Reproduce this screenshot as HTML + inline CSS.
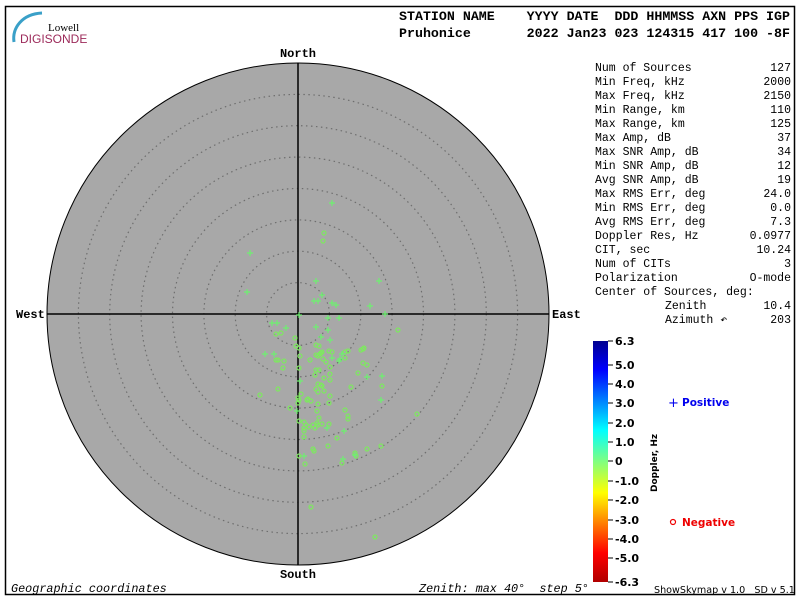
<!DOCTYPE html>
<html><head><meta charset="utf-8"><style>
body{margin:0;background:#fff;width:800px;height:600px;overflow:hidden}
svg{display:block}
.m{font-family:"Liberation Mono","DejaVu Sans Mono",monospace}
.s{font-family:"DejaVu Sans","Liberation Sans",sans-serif}
</style></head><body>
<svg width="800" height="600" viewBox="0 0 800 600" xmlns="http://www.w3.org/2000/svg">
<defs>
<linearGradient id="jet" x1="0" y1="0" x2="0" y2="1">
<stop offset="0" stop-color="#00008f"/>
<stop offset="0.12" stop-color="#0000ff"/>
<stop offset="0.37" stop-color="#00ffff"/>
<stop offset="0.5" stop-color="#80ff80"/>
<stop offset="0.63" stop-color="#ffff00"/>
<stop offset="0.88" stop-color="#ff0000"/>
<stop offset="1" stop-color="#b00000"/>
</linearGradient>
</defs>
<rect x="5.5" y="6.5" width="789" height="588" fill="none" stroke="#000" stroke-width="1.5"/>
<path d="M14 42 C12 28 22 14 42 13" fill="none" stroke="#3aa0c8" stroke-width="3"/>
<text x="48" y="31" font-family="Liberation Serif,serif" font-size="11">Lowell</text>
<text x="20" y="43" font-family="Liberation Sans,sans-serif" font-size="12" fill="#9c2a5a">DIGISONDE</text>
<text class="m" x="399" y="20" font-size="13.3" font-weight="bold" xml:space="preserve">STATION NAME    YYYY DATE  DDD HHMMSS AXN PPS IGP</text>
<text class="m" x="399" y="37" font-size="13.3" font-weight="bold" xml:space="preserve">Pruhonice       2022 Jan23 023 124315 417 100 -8F</text>
<circle cx="298" cy="314" r="251" fill="#a8a8a8" stroke="#000" stroke-width="1"/>
<g fill="none" stroke="#6e6e6e" stroke-dasharray="1.5 3.5" stroke-width="1.2">
<circle cx="298" cy="314" r="31.4"/><circle cx="298" cy="314" r="62.8"/><circle cx="298" cy="314" r="94.1"/><circle cx="298" cy="314" r="125.5"/><circle cx="298" cy="314" r="156.9"/><circle cx="298" cy="314" r="188.3"/><circle cx="298" cy="314" r="219.6"/>
</g>
<line x1="47" y1="314" x2="549" y2="314" stroke="#000" stroke-width="1.5"/>
<line x1="298" y1="63" x2="298" y2="565" stroke="#000" stroke-width="1.5"/>
<g id="pts"></g>
<g class="m" font-size="12" font-weight="bold">
<text x="298" y="57" text-anchor="middle">North</text>
<text x="298" y="578" text-anchor="middle">South</text>
<text x="16" y="318">West</text>
<text x="552" y="318">East</text>
</g>
<g class="m" font-size="11.8" font-style="italic">
<text x="11" y="592">Geographic coordinates</text>
<text x="419" y="592" xml:space="preserve">Zenith: max 40°  step 5°</text>
</g>
<text class="s" x="654" y="593" font-size="9.6" xml:space="preserve">ShowSkymap v 1.0   SD v 5.1</text>
<g class="m" font-size="11.5" id="stats"></g>
<rect x="593" y="341" width="15" height="241" fill="url(#jet)"/>
<g id="cb" class="s" font-size="11" font-weight="bold"></g>
<text class="s" font-size="9" font-weight="bold" transform="translate(657,492) rotate(-90)">Doppler, Hz</text>
<text x="668" y="407" fill="#0000ee" font-size="13" class="s">+</text>
<text class="s" x="682" y="406" font-size="10.5" font-weight="bold" fill="#0000ee">Positive</text>
<circle cx="673" cy="522" r="2.5" fill="none" stroke="#ee0000" stroke-width="1.2"/>
<text class="s" x="682" y="526" font-size="10.5" font-weight="bold" fill="#ee0000">Negative</text>
</svg>
<script>
var NS="http://www.w3.org/2000/svg";
function el(p,t,a,txt){var e=document.createElementNS(NS,t);for(var k in a)e.setAttribute(k,a[k]);if(txt!=null)e.textContent=txt;p.appendChild(e);return e;}
var st=document.getElementById('stats');
var rows=[["Num of Sources","127"],["Min Freq, kHz","2000"],["Max Freq, kHz","2150"],["Min Range, km","110"],["Max Range, km","125"],["Max Amp, dB","37"],["Max SNR Amp, dB","34"],["Min SNR Amp, dB","12"],["Avg SNR Amp, dB","19"],["Max RMS Err, deg","24.0"],["Min RMS Err, deg","0.0"],["Avg RMS Err, deg","7.3"],["Doppler Res, Hz","0.0977"],["CIT, sec","10.24"],["Num of CITs","3"],["Polarization","O-mode"],["Center of Sources, deg:",""],["Zenith","10.4",665],["Azimuth \u21b6","203",665]];
rows.forEach(function(r,i){var y=71+i*14;el(st,'text',{x:r[2]||595,y:y},r[0]);if(r[1])el(st,'text',{x:791,y:y,'text-anchor':'end'},r[1]);});
var cb=document.getElementById('cb');
[["6.3",341],["5.0",365],["4.0",384],["3.0",403],["2.0",423],["1.0",442],["0",461],["-1.0",481],["-2.0",500],["-3.0",520],["-4.0",539],["-5.0",558],["-6.3",582]].forEach(function(t){
el(cb,'line',{x1:608,y1:t[1],x2:613,y2:t[1],stroke:'#000'});el(cb,'text',{x:615,y:t[1]+4},t[0]);});
var g=document.getElementById('pts');
var circ=[[276,334],[281,333],[295,338],[299,348],[316,345],[319,346],[316,355],[320,354],[322,352],[323,359],[329,351],[332,352],[348,351],[363,349],[276,360],[283,368],[299,368],[316,370],[319,370],[330,367],[330,374],[315,375],[324,378],[330,380],[318,384],[321,385],[316,389],[322,386],[324,391],[318,392],[301,394],[308,399],[311,401],[317,411],[351,387],[358,373],[260,395],[278,389],[307,400],[318,404],[330,396],[329,403],[345,410],[348,416],[348,419],[317,423],[319,418],[318,425],[315,428],[306,425],[304,422],[299,421],[309,427],[313,425],[322,424],[304,431],[304,428],[329,424],[337,438],[328,446],[304,437],[313,449],[314,451],[355,453],[356,456],[342,463],[305,464],[381,446],[375,537],[311,507],[417,414],[382,386],[367,449],[299,456],[290,408],[298,403],[299,400],[298,398],[324,233],[323,241],[345,352],[361,350],[363,363],[364,348],[367,365],[398,330],[284,361],[278,360],[345,358],[321,353],[318,356],[310,360],[326,362],[296,346],[300,356]];
circ.forEach(function(p){el(g,'circle',{cx:p[0],cy:p[1],r:2,fill:'none',stroke:'#7ee860','stroke-width':1.2});});
var plus=[[332,203],[250,253],[247,292],[316,281],[379,281],[322,295],[314,301],[318,301],[332,303],[336,305],[370,306],[385,314],[339,318],[328,318],[272,323],[277,323],[286,328],[316,327],[328,330],[321,337],[330,340],[274,354],[265,354],[342,354],[340,359],[367,377],[382,376],[381,400],[355,455],[343,459],[297,411],[304,456],[344,431],[327,428],[339,361],[332,358],[300,381],[299,315]];
plus.forEach(function(p){el(g,'path',{d:'M'+(p[0]-3)+' '+p[1]+'h6M'+p[0]+' '+(p[1]-3)+'v6',stroke:'#6ef070','stroke-width':1.2,fill:'none'});});
</script>
</body></html>
